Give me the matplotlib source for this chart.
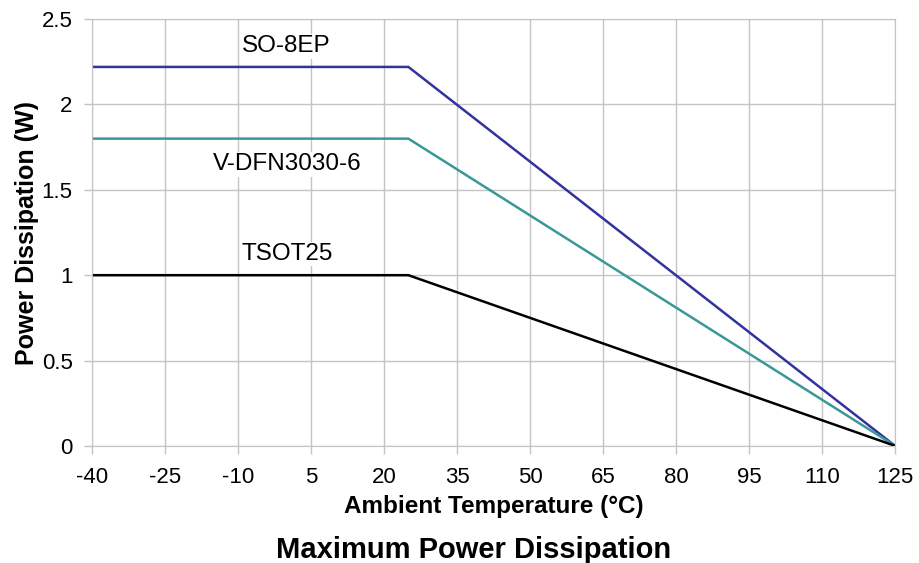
import matplotlib.pyplot as plt

plt.rcParams['font.family'] = ['Liberation Sans', 'DejaVu Sans']
plt.rcParams['axes.unicode_minus'] = False

temps = [-40, 25, 125]
so8ep = [2.22, 2.22, 0]
vdfn = [1.8, 1.8, 0]
tsot25 = [1.0, 1.0, 0]

labels = ['SO-8EP', 'V-DFN3030-6', 'TSOT25']
label_y = [2.307, 1.616, 1.089]

xticks = [-40, -25, -10, 5, 20, 35, 50, 65, 80, 95, 110, 125]
yticks = [0, 0.5, 1, 1.5, 2, 2.5]

fig = plt.figure(figsize=(9.2, 5.63), dpi=100)
ax = fig.add_axes([0.1, 0.208, 0.873, 0.758])

ax.plot(temps, so8ep, color='#33339f', lw=1.8)
ax.plot(temps, vdfn, color='#3a9898', lw=1.8)
ax.plot(temps, tsot25, color='black', lw=1.8)

for name, y in zip(labels, label_y):
    ax.text(0, y, name, ha='center', va='baseline', fontsize=17.5,
            bbox=dict(facecolor='white', edgecolor='none', pad=1))

ax.set_xlim(-40, 125)
ax.set_ylim(0, 2.5)
ax.set_xticks(xticks)
ax.set_yticks(yticks)
ax.set_yticklabels(['0', '0.5', '1', '1.5', '2', '2.5'])
ax.grid(True, color='#c4c4c4', lw=1)
ax.set_axisbelow(True)
for s in ax.spines.values():
    s.set_color('#c4c4c4')
ax.tick_params(labelsize=16, color='#c4c4c4', length=6, width=1)
ax.tick_params(axis='x', pad=9)
ax.tick_params(axis='y', pad=8)

ax.set_xlabel('Ambient Temperature (°C)', fontsize=17.5, fontweight='bold', labelpad=5)
ax.set_ylabel('Power Dissipation (W)', fontsize=18, fontweight='bold', labelpad=2)
fig.text(0.515, 0.009, 'Maximum Power Dissipation', ha='center', va='baseline',
         fontsize=21, fontweight='bold')

fig.savefig('out.png', dpi=100)
